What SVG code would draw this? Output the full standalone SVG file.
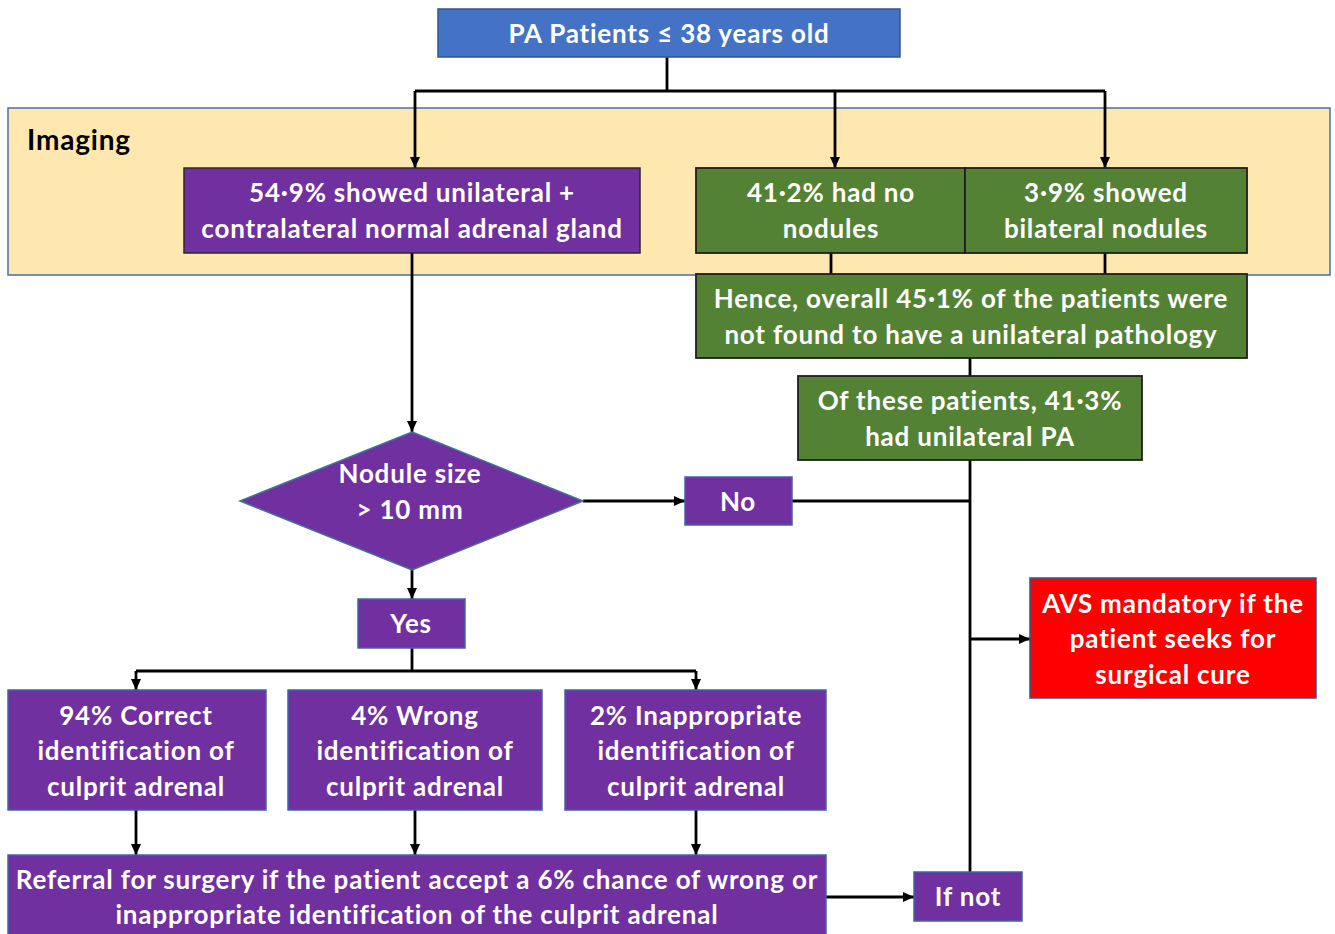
<svg xmlns="http://www.w3.org/2000/svg" width="1335" height="934" viewBox="0 0 1335 934">
<defs>
<style>
.t{font-family:Lato,"Open Sans","Liberation Sans",sans-serif;font-weight:bold;font-size:26px;letter-spacing:0.8px;fill:#fff;text-anchor:middle}
.c{fill:none;stroke:#000;stroke-width:2.8}
.pd{fill:#7030A0;stroke:#2a2a2a;stroke-width:1.5}
.pb{fill:#7030A0;stroke:#3f63a6;stroke-width:1.5}
.g{fill:#548235;stroke:#1e1e1e;stroke-width:1.8}
</style>
<marker id="a" markerUnits="userSpaceOnUse" markerWidth="12" markerHeight="10" refX="11" refY="5" orient="auto">
<path d="M0,0 L11,5 L0,10 z" fill="#000"/>
</marker>
</defs>
<rect width="1335" height="934" fill="#fff"/>
<g id="imaging-band">
<rect x="8" y="108" width="1322" height="167" fill="#FFE8B0" stroke="#4a6ea8" stroke-width="1.5"/>
<text x="27" y="150" style="font-family:Lato,'Open Sans','Liberation Sans',sans-serif;font-weight:bold;font-size:28px;letter-spacing:0.8px;fill:#000">Imaging</text>
</g>
<g id="connectors">
<path class="c" d="M667,57 V91 M415,91 H1105"/>
<path class="c" d="M415,91 V168" marker-end="url(#a)"/>
<path class="c" d="M835,91 V168" marker-end="url(#a)"/>
<path class="c" d="M1105,91 V168" marker-end="url(#a)"/>
<path class="c" d="M831,253 V274 M1105,253 V274 M970,358 V376"/>
<path class="c" d="M412,253 V432" marker-end="url(#a)"/>
<path class="c" d="M583,501 H685" marker-end="url(#a)"/>
<path class="c" d="M792,501 H970 M970,460 V872"/>
<path class="c" d="M970,639 H1030" marker-end="url(#a)"/>
<path class="c" d="M412,562 V599" marker-end="url(#a)"/>
<path class="c" d="M412,648 V671 M136,671 H696"/>
<path class="c" d="M136,671 V690" marker-end="url(#a)"/>
<path class="c" d="M696,671 V690" marker-end="url(#a)"/>
<path class="c" d="M136,810 V855" marker-end="url(#a)"/>
<path class="c" d="M415,810 V855" marker-end="url(#a)"/>
<path class="c" d="M696,810 V855" marker-end="url(#a)"/>
<path class="c" d="M826,897 H914" marker-end="url(#a)"/>
</g>
<g id="start">
<rect x="438" y="9" width="462" height="48" fill="#4472C4" stroke="#2F5597" stroke-width="1.5"/>
<text class="t" x="669" y="43">PA Patients ≤ 38 years old</text>
</g>
<g id="unilateral">
<rect class="pd" x="184" y="168" width="456" height="85"/>
<text class="t" x="412" y="202">54·9% showed unilateral +</text>
<text class="t" x="412" y="238">contralateral normal adrenal gland</text>
</g>
<g id="no-nodules">
<rect class="g" x="696" y="168" width="269" height="85"/>
<text class="t" x="831" y="202">41·2% had no</text>
<text class="t" x="831" y="238">nodules</text>
</g>
<g id="bilateral">
<rect class="g" x="965" y="168" width="282" height="85"/>
<text class="t" x="1106" y="202">3·9% showed</text>
<text class="t" x="1106" y="238">bilateral nodules</text>
</g>
<g id="overall">
<rect class="g" x="696" y="274" width="551" height="84"/>
<text class="t" x="971" y="308">Hence, overall 45·1% of the patients were</text>
<text class="t" x="971" y="344">not found to have a unilateral  pathology</text>
</g>
<g id="of-these">
<rect class="g" x="798" y="376" width="344" height="84"/>
<text class="t" x="970" y="410">Of these patients, 41·3%</text>
<text class="t" x="970" y="446">had unilateral PA</text>
</g>
<g id="nodule-size">
<polygon points="412,432 583,501 412,570 240,501" fill="#7030A0" stroke="#41719C" stroke-width="1.5"/>
<text class="t" x="410" y="483">Nodule size</text>
<text class="t" x="410" y="519">&gt; 10 mm</text>
</g>
<g id="no">
<rect class="pb" x="685" y="477" width="107" height="48"/>
<text class="t" x="738" y="511">No</text>
</g>
<g id="yes">
<rect class="pb" x="358" y="599" width="107" height="49"/>
<text class="t" x="411" y="633">Yes</text>
</g>
<g id="correct">
<rect class="pb" x="8" y="690" width="258" height="120"/>
<text class="t" x="136" y="725">94% Correct</text>
<text class="t" x="136" y="760">identification of</text>
<text class="t" x="136" y="796">culprit adrenal</text>
</g>
<g id="wrong">
<rect class="pb" x="288" y="690" width="254" height="120"/>
<text class="t" x="415" y="725">4% Wrong</text>
<text class="t" x="415" y="760">identification of</text>
<text class="t" x="415" y="796">culprit adrenal</text>
</g>
<g id="inappropriate">
<rect class="pb" x="565" y="690" width="261" height="120"/>
<text class="t" x="696" y="725">2% Inappropriate</text>
<text class="t" x="696" y="760">identification of</text>
<text class="t" x="696" y="796">culprit adrenal</text>
</g>
<g id="referral">
<rect class="pb" x="8" y="855" width="818" height="84"/>
<text class="t" x="417" y="889">Referral for surgery if the patient accept a 6% chance of wrong or</text>
<text class="t" x="417" y="924">inappropriate identification of the culprit adrenal</text>
</g>
<g id="if-not">
<rect class="pb" x="914" y="872" width="108" height="49"/>
<text class="t" x="968" y="906">If not</text>
</g>
<g id="avs">
<rect x="1030" y="578" width="286" height="120" fill="#FF0000" stroke="#2F5597" stroke-width="1.5"/>
<text class="t" x="1173" y="613">AVS mandatory if the</text>
<text class="t" x="1173" y="648">patient seeks for</text>
<text class="t" x="1173" y="684">surgical cure</text>
</g>
</svg>
